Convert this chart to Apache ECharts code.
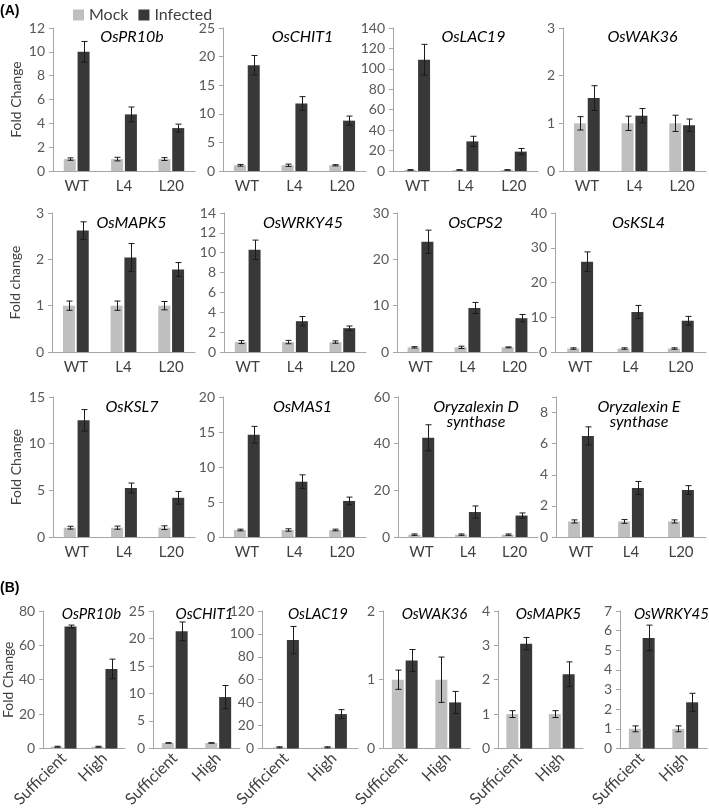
<!DOCTYPE html>
<html>
<head>
<meta charset="utf-8">
<script src="https://cdn.jsdelivr.net/npm/echarts@6.0.0/dist/echarts.min.js"></script>
<style>
  html, body { margin: 0; padding: 0; background: #fff; }
  #chart { width: 709px; height: 810px; }
</style>
</head>
<body>
<div id="chart"></div>
<script>
// ---- data, panel A ----
const groupsA = ['WT', 'L4', 'L20'];
const titlesA = ['OsPR10b', 'OsCHIT1', 'OsLAC19', 'OsWAK36',
  'OsMAPK5', 'OsWRKY45', 'OsCPS2', 'OsKSL4',
  'OsKSL7', 'OsMAS1', 'Oryzalexin D\nsynthase', 'Oryzalexin E\nsynthase'];
const yMaxA = [12, 25, 140, 3, 3, 14, 30, 40, 15, 20, 60, 9];
const yStepA = [2, 5, 20, 1, 1, 2, 10, 10, 5, 5, 20, 2];
const mockA = [
  [1, 1, 1], [1, 1, 1], [1, 1, 1], [1, 1, 1],
  [1, 1, 1], [1, 1, 1], [1, 1, 1], [1, 1, 1],
  [1, 1, 1], [1, 1, 1], [1, 1, 1], [1, 1, 1]
];
const mockErrA = [
  [0.1, 0.15, 0.12], [0.15, 0.2, 0.1], [0.3, 0.3, 0.3], [0.14, 0.15, 0.17],
  [0.1, 0.1, 0.09], [0.15, 0.17, 0.12], [0.15, 0.25, 0.1], [0.2, 0.2, 0.2],
  [0.15, 0.17, 0.2], [0.12, 0.17, 0.12], [0.3, 0.3, 0.3], [0.1, 0.12, 0.1]
];
const infectedA = [
  [10, 4.75, 3.6], [18.5, 11.8, 8.8], [109, 29, 19], [1.53, 1.16, 0.96],
  [2.62, 2.04, 1.78], [10.3, 3.1, 2.4], [23.8, 9.5, 7.3], [26, 11.5, 9],
  [12.5, 5.25, 4.2], [14.6, 7.9, 5.15], [42.5, 10.7, 9.2], [6.5, 3.15, 3.02]
];
const infectedErrA = [
  [0.87, 0.62, 0.33], [1.7, 1.2, 0.8], [15, 5, 3], [0.26, 0.15, 0.13],
  [0.19, 0.3, 0.15], [0.97, 0.47, 0.22], [2.5, 1.2, 0.8], [2.8, 1.9, 1.25],
  [1.15, 0.53, 0.68], [1.2, 0.98, 0.55], [5.6, 2.6, 1.1], [0.58, 0.42, 0.28]
];

// ---- data, panel B ----
const groupsB = ['Sufficient', 'High'];
const titlesB = ['OsPR10b', 'OsCHIT1', 'OsLAC19', 'OsWAK36', 'OsMAPK5', 'OsWRKY45'];
const yMaxB = [80, 25, 120, 2, 4, 7];
const yStepB = [20, 5, 20, 1, 1, 1];
const mockB = [[1, 1], [1, 1], [1, 1], [1, 1], [1, 1], [1, 1]];
const mockErrB = [[0.3, 0.3], [0.05, 0.05], [0.5, 0.5], [0.14, 0.33], [0.1, 0.1], [0.15, 0.15]];
const infectedB = [[71, 46.3], [21.3, 9.35], [94.6, 30], [1.28, 0.67], [3.05, 2.16], [5.63, 2.35]];
const infectedErrB = [[0.8, 5.7], [1.7, 2.1], [11.9, 3.9], [0.16, 0.16], [0.18, 0.36], [0.65, 0.46]];

// ---- layout ----
const leftA = [53, 223, 393, 563, 52, 224, 397, 555, 53, 223, 398, 556];
const endA = [195, 366, 538, 706];
const topA = [28, 213, 397];
const heightA = [143, 139, 140];
const titleTopA = [24, 210, 394];
const yNameA = ['Fold Change', 'Fold change', 'Fold Change'];
const leftB = [42, 153, 262, 383, 498, 620];
const endB = [125, 240, 358, 470, 583, 707];

const FONT = 'Lato';
const MOCK = '#bfbfbf';
const INF = '#383838';
const AXIS = '#a6a6a6';

const chart = echarts.init(document.getElementById('chart'));

const grids = [], xAxes = [], yAxes = [], series = [], titles = [];

// error bar with caps, shifted onto the mock (-) or infected (+) bar
function errRender(shift) {
  return function (params, api) {
    const i = api.value(0), v = api.value(1), e = api.value(2);
    const hi = api.coord([i, v + e]);
    const lo = api.coord([i, v - e]);
    const x = Math.round(hi[0] + shift) + 0.5;
    const style = { stroke: '#1a1a1a', lineWidth: 1 };
    return {
      type: 'group',
      children: [
        { type: 'line', shape: { x1: x, y1: hi[1], x2: x, y2: lo[1] }, style },
        { type: 'line', shape: { x1: x - 3, y1: hi[1], x2: x + 3, y2: hi[1] }, style },
        { type: 'line', shape: { x1: x - 3, y1: lo[1], x2: x + 3, y2: lo[1] }, style }
      ]
    };
  };
}

function addPanel(opt) {
  const k = grids.length;
  grids.push({ left: opt.left, top: opt.top, width: opt.width, height: opt.height });
  xAxes.push({
    type: 'category', gridIndex: k, data: opt.groups,
    axisLine: { lineStyle: { color: AXIS } },
    axisTick: { alignWithLabel: true, length: 4, lineStyle: { color: AXIS } },
    axisLabel: {
      color: '#404040', fontFamily: FONT, fontSize: opt.rotate ? 16 : 15,
      margin: opt.rotate ? 7 : 8, rotate: opt.rotate || 0, interval: 0
    }
  });
  yAxes.push({
    type: 'value', gridIndex: k, min: 0, max: opt.max, interval: opt.step,
    splitLine: { show: false },
    axisLine: { show: true, lineStyle: { color: AXIS } },
    axisTick: { show: true, length: 4, lineStyle: { color: AXIS } },
    axisLabel: {
      color: '#595959', fontFamily: FONT, fontSize: 14, margin: 8,
      formatter: v => (v % opt.step === 0 ? String(v) : '')
    },
    name: opt.yName || '', nameLocation: 'middle', nameGap: opt.nameGap || 30,
    nameTextStyle: { color: '#404040', fontFamily: FONT, fontSize: 14 }
  });
  series.push({
    name: 'Mock', type: 'bar', xAxisIndex: k, yAxisIndex: k,
    data: opt.mock, barWidth: 12, barGap: '15%', itemStyle: { color: MOCK }
  });
  series.push({
    name: 'Infected', type: 'bar', xAxisIndex: k, yAxisIndex: k,
    data: opt.inf, barWidth: 12, barGap: '15%', itemStyle: { color: INF }
  });
  series.push({
    name: 'err', type: 'custom', xAxisIndex: k, yAxisIndex: k, z: 5,
    renderItem: errRender(-7), encode: { x: 0, y: 1 },
    data: opt.mock.map((v, i) => [i, v, opt.mockErr[i]])
  });
  series.push({
    name: 'err', type: 'custom', xAxisIndex: k, yAxisIndex: k, z: 5,
    renderItem: errRender(7), encode: { x: 0, y: 1 },
    data: opt.inf.map((v, i) => [i, v, opt.infErr[i]])
  });
  titles.push({
    text: opt.title, left: opt.left + opt.width / 2 + 3, top: opt.titleTop, textAlign: 'center',
    textStyle: {
      fontFamily: FONT, fontStyle: 'italic', fontWeight: 'normal',
      fontSize: opt.titleSize, color: '#000', lineHeight: 15
    }
  });
}

titlesA.forEach((t, n) => {
  const row = Math.floor(n / 4), col = n % 4;
  addPanel({
    left: leftA[n], width: endA[col] - leftA[n], top: topA[row], height: heightA[row],
    groups: groupsA, title: t, titleTop: titleTopA[row], titleSize: 16,
    max: yMaxA[n], step: yStepA[n],
    mock: mockA[n], mockErr: mockErrA[n], inf: infectedA[n], infErr: infectedErrA[n],
    yName: col === 0 ? yNameA[row] : '', nameGap: 30
  });
});

titlesB.forEach((t, n) => {
  addPanel({
    left: leftB[n], width: endB[n] - leftB[n], top: 611, height: 140,
    groups: groupsB, title: t, titleTop: 602, titleSize: 15, rotate: 45,
    max: yMaxB[n], step: yStepB[n],
    mock: mockB[n], mockErr: mockErrB[n], inf: infectedB[n], infErr: infectedErrB[n],
    yName: n === 0 ? 'Fold Change' : '', nameGap: 26
  });
});

chart.setOption({
  animation: false,
  backgroundColor: '#fff',
  title: titles,
  legend: {
    data: ['Mock', 'Infected'], left: 68, top: 2, icon: 'rect',
    itemWidth: 11, itemHeight: 11, itemGap: 10,
    textStyle: { fontFamily: FONT, fontSize: 16, color: '#404040' }
  },
  graphic: [
    { type: 'text', left: 0, top: 4, style: { text: '(A)', font: 'bold 14px "Liberation Sans"', fill: '#000' } },
    { type: 'text', left: 0, top: 581, style: { text: '(B)', font: 'bold 14px "Liberation Sans"', fill: '#000' } }
  ],
  grid: grids,
  xAxis: xAxes,
  yAxis: yAxes,
  series: series
});
</script>
</body>
</html>
